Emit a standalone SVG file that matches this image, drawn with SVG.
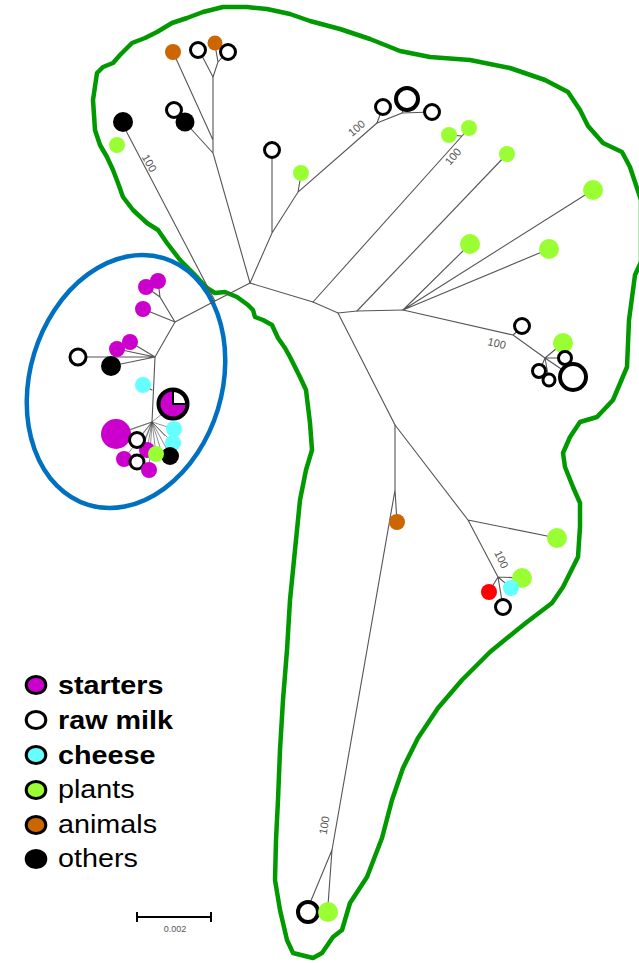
<svg xmlns="http://www.w3.org/2000/svg" width="639" height="963" viewBox="0 0 639 963">
  <style>
    .e { stroke: #555; stroke-width: 1.1; fill: none; stroke-linecap: round; }
    .ef { stroke: #444; stroke-width: 0.6; fill: none; }
    .bs { font-family: "Liberation Sans", Arial, sans-serif; font-size: 11px; fill: #555; text-anchor: middle; }
    .mg { fill: #cc00cc; }
    .wm { fill: #fff; stroke: #000; stroke-width: 3; }
    .wm4 { fill: #fff; stroke: #000; stroke-width: 4; }
    .ch { fill: #66ffff; }
    .pl { fill: #99ff33; }
    .an { fill: #cc6600; }
    .ot { fill: #000; }
    .rd { fill: #ff0000; }
    .lg { font-family: "Liberation Sans", Arial, Helvetica, sans-serif; font-size: 25px; fill: #000; }
    .lgb { font-weight: bold; }
    .lc { stroke: #000; stroke-width: 3; }
  </style>

  <!-- group outlines -->
  <g id="outline-main">
    <path fill="none" stroke="#009900" stroke-width="4.5" stroke-linejoin="round"
      d="M97,73 L103,67 L113,63 L120,55 L132,43 L145,38 L157,32 L172,23 L187,18 L203,12 L223,7 L247,7 L267,9 L290,14 L310,21 L340,29 L370,39 L400,51 L430,57 L470,60 L510,68 L545,80 L568,92 L580,110 L588,126 L603,143 L622,152 L630,167 L636,185 L641,200 L641,262 L635,275 L629,320 L627,367 L613,400 L597,417 L580,422 L570,437 L563,453 L565,467 L573,487 L580,503 L580,527 L578,557 L563,587 L552,603 L527,622 L517,630 L490,652 L462,680 L438,708 L418,738 L403,768 L392,800 L382,838 L367,877 L350,903 L342,930 L333,937 L322,953 L313,958 L293,953 L287,940 L280,910 L275,880 L276,840 L278,800 L280,750 L283,700 L287,650 L290,600 L295,550 L300,500 L306,470 L312,450 L310,423 L306,390 L300,377 L293,363 L290,357 L285,348 L278,338 L272,325 L263,320 L255,317 L253,310 L248,305 L237,297 L225,292 L215,293 L207,288 L193,273 L180,260 L167,243 L158,230 L147,223 L133,210 L123,197 L118,183 L113,170 L107,157 L100,145 L95,130 L93,100 Z"/>
  </g>
  <g id="outline-cluster">
    <ellipse cx="126" cy="381.5" rx="96" ry="129" transform="rotate(17 126 381.5)" fill="none" stroke="#0070c0" stroke-width="4.5"/>
  </g>

  <!-- branches -->
  <g id="connectors">
    <path class="e" d="M250,283 L313,302 L338,313 L357,311 L403,310"/>
    <path class="e" d="M313,302 L462,136 M462,136 L449,135 M462,136 L469,128"/>
    <path class="e" d="M357,311 L507,154"/>
    <path class="e" d="M403,310 L470,244 M403,310 L593,190 M403,310 L549,249"/>
    <path class="e" d="M403,310 L513,335 L545,358 M513,335 L520,329"/>
    <path class="e" d="M545,358 L563,343 M545,358 L565,358 M545,358 L540,370 M545,358 L549,380 M545,358 L573,377"/>
    <path class="e" d="M338,313 L395,425 L395,490 L397,522 M395,490 L332,850"/>
    <path class="e" d="M332,850 L310,903 M332,850 L328,905"/>
    <path class="e" d="M395,425 L468,520 L557,538 M468,520 L498,577"/>
    <path class="e" d="M498,577 L522,578 M498,577 L511,588 M498,577 L489,592 M498,577 L503,607"/>
    <path class="e" d="M250,283 L213,153 L213,77 M213,140 L173,52 M213,153 L182,119"/>
    <path class="e" d="M213,77 L200,52 M213,77 L218,62 L215,45 M218,62 L227,52"/>
    <path class="e" d="M250,283 L272,233 L298,192 L377,123 M272,233 L272,150 M298,192 L301,175"/>
    <path class="e" d="M377,123 L383,107 M377,123 L402,113 L407,100 M402,113 L432,112"/>
    <path class="e" d="M250,283 L215,301 L175,322 M215,301 L123,125"/>
    <path class="e" d="M175,322 L160,297 L158,281 M160,297 L146,287 M175,322 L143,309 M175,322 L155,357"/>
    <path class="e" d="M155,357 L78,357 M155,357 L111,366 M155,357 L117,349 M155,357 L130,342 M155,357 L152,422 M152,390 L143,385"/>
    <path class="ef" d="M152,422 L116,434 M152,422 L137,440 M152,422 L174,429 M152,422 L173,443 M152,422 L147,450 M152,422 L156,454 M152,422 L170,455 M152,422 L124,459 M152,422 L137,463 M152,422 L149,470 M152,422 L173,405 M152,422 L130,430 M152,422 L165,436 M152,422 L142,446 M152,422 L160,447"/>
    <!-- bootstrap values -->
    <text class="bs" transform="translate(146,165) rotate(60)">100</text>
    <text class="bs" transform="translate(359,131) rotate(-40)">100</text>
    <text class="bs" transform="translate(456,159) rotate(-50)">100</text>
    <text class="bs" transform="translate(496,347) rotate(13)">100</text>
    <text class="bs" transform="translate(498,561) rotate(64)">100</text>
    <text class="bs" transform="translate(328,826) rotate(-80)">100</text>
  </g>

  <!-- leaves: top cluster -->
  <g id="n-an1"><circle class="an" cx="173" cy="52" r="8"/></g>
  <g id="n-rm1"><circle class="wm" cx="198" cy="50" r="7.5"/></g>
  <g id="n-an2"><circle class="an" cx="215" cy="43" r="7.5"/></g>
  <g id="n-rm2"><circle class="wm" cx="228" cy="52" r="7.5"/></g>
  <g id="n-rm3"><circle class="wm" cx="174" cy="110" r="7.5"/></g>
  <g id="n-ot1"><circle class="ot" cx="185" cy="122" r="9.5"/></g>
  <g id="n-ot2"><circle class="ot" cx="123" cy="122" r="10"/></g>
  <g id="n-pl1"><circle class="pl" cx="117" cy="145" r="8"/></g>
  <g id="n-rm4"><circle class="wm" cx="272" cy="150" r="7.5"/></g>
  <g id="n-pl2"><circle class="pl" cx="301" cy="173" r="8"/></g>
  <g id="n-rm5"><circle class="wm" cx="383" cy="107" r="7.5"/></g>
  <g id="n-rm6"><circle class="wm4" cx="407" cy="99" r="11"/></g>
  <g id="n-rm7"><circle class="wm" cx="432" cy="112" r="7.5"/></g>

  <!-- leaves: right side -->
  <g id="n-pl3"><circle class="pl" cx="449" cy="135" r="8"/></g>
  <g id="n-pl4"><circle class="pl" cx="469" cy="128" r="8"/></g>
  <g id="n-pl5"><circle class="pl" cx="507" cy="154" r="8"/></g>
  <g id="n-pl6"><circle class="pl" cx="593" cy="190" r="10"/></g>
  <g id="n-pl7"><circle class="pl" cx="470" cy="244" r="10"/></g>
  <g id="n-pl8"><circle class="pl" cx="549" cy="249" r="10"/></g>
  <g id="n-rm8"><circle class="wm" cx="522" cy="326" r="7.5"/></g>
  <g id="n-pl9"><circle class="pl" cx="563" cy="343" r="10"/></g>
  <g id="n-rm9"><circle class="wm" cx="565" cy="358" r="6.5"/></g>
  <g id="n-rm10"><circle class="wm" cx="539" cy="371" r="6.5"/></g>
  <g id="n-rm11"><circle class="wm" cx="549" cy="380" r="6"/></g>
  <g id="n-rm12"><circle class="wm4" cx="573" cy="377" r="13"/></g>

  <!-- leaves: lower branch -->
  <g id="n-an3"><circle class="an" cx="397" cy="522" r="8"/></g>
  <g id="n-pl10"><circle class="pl" cx="557" cy="538" r="10"/></g>
  <g id="n-pl11"><circle class="pl" cx="522" cy="578" r="10"/></g>
  <g id="n-ch1"><circle class="ch" cx="511" cy="588" r="8"/></g>
  <g id="n-rd1"><circle class="rd" cx="489" cy="592" r="8"/></g>
  <g id="n-rm13"><circle class="wm" cx="503" cy="607" r="7.5"/></g>
  <g id="n-rm14"><circle class="wm4" cx="308" cy="912" r="10"/></g>
  <g id="n-pl12"><circle class="pl" cx="328" cy="912" r="10"/></g>

  <!-- leaves: starter cluster -->
  <g id="n-mg1"><circle class="mg" cx="146" cy="287" r="8"/></g>
  <g id="n-mg2"><circle class="mg" cx="158" cy="281" r="8"/></g>
  <g id="n-mg3"><circle class="mg" cx="143" cy="309" r="8"/></g>
  <g id="n-mg4"><circle class="mg" cx="130" cy="342" r="8"/></g>
  <g id="n-mg5"><circle class="mg" cx="117" cy="349" r="8"/></g>
  <g id="n-rm15"><circle class="wm" cx="78" cy="357" r="8"/></g>
  <g id="n-ot3"><circle class="ot" cx="111" cy="366" r="10"/></g>
  <g id="n-ch2"><circle class="ch" cx="143" cy="385" r="8"/></g>
  <g id="n-pie">
    <circle cx="173" cy="404" r="14.5" fill="#cc00cc" stroke="#000" stroke-width="4"/>
    <path d="M173,404 L173,391 A13,13 0 0 1 186,404 Z" fill="#fff" stroke="#000" stroke-width="2" stroke-linejoin="miter"/>
  </g>
  <g id="n-mg6"><circle class="mg" cx="116" cy="434" r="15"/></g>
  <g id="n-ch3"><circle class="ch" cx="174" cy="429" r="8"/></g>
  <g id="n-mg7"><circle class="mg" cx="147" cy="450" r="8"/></g>
  <g id="n-ch4"><circle class="ch" cx="173" cy="443" r="8"/></g>
  <g id="n-ot4"><circle class="ot" cx="170" cy="456" r="9"/></g>
  <g id="n-pl13"><circle class="pl" cx="156" cy="454" r="8"/></g>
  <g id="n-rm16"><circle class="wm" cx="137" cy="440" r="7.5"/></g>
  <g id="n-mg8"><circle class="mg" cx="124" cy="459" r="8"/></g>
  <g id="n-rm17"><circle class="wm" cx="137" cy="462" r="7"/></g>
  <g id="n-mg9"><circle class="mg" cx="149" cy="470" r="8"/></g>

  <!-- legend -->
  <g id="legend">
    <ellipse class="lc mg" cx="36" cy="685" rx="9.8" ry="8.6"/>
    <ellipse class="lc" cx="36" cy="720" rx="9.8" ry="8.6" fill="#fff"/>
    <ellipse class="lc ch" cx="36" cy="755" rx="9.8" ry="8.6"/>
    <ellipse class="lc pl" cx="36" cy="790" rx="9.8" ry="8.6"/>
    <ellipse class="lc an" cx="36" cy="825" rx="9.8" ry="8.6"/>
    <ellipse class="lc ot" cx="36" cy="859" rx="9.8" ry="8.6"/>
    <g transform="translate(58,0) scale(1.15,1)">
      <text class="lg lgb" x="0" y="694">starters</text>
      <text class="lg lgb" x="0" y="729">raw milk</text>
      <text class="lg lgb" x="0" y="764">cheese</text>
      <text class="lg" x="0" y="798">plants</text>
      <text class="lg" x="0" y="833">animals</text>
      <text class="lg" x="0" y="867">others</text>
    </g>
  </g>

  <!-- scale bar -->
  <g id="scale-bar">
    <path d="M137,917 L211,917 M137,912 L137,922 M211,912 L211,922" stroke="#000" stroke-width="2" fill="none"/>
    <text x="175" y="932" font-family="'Liberation Sans', Arial, sans-serif" font-size="9" fill="#555" text-anchor="middle">0.002</text>
  </g>
</svg>
